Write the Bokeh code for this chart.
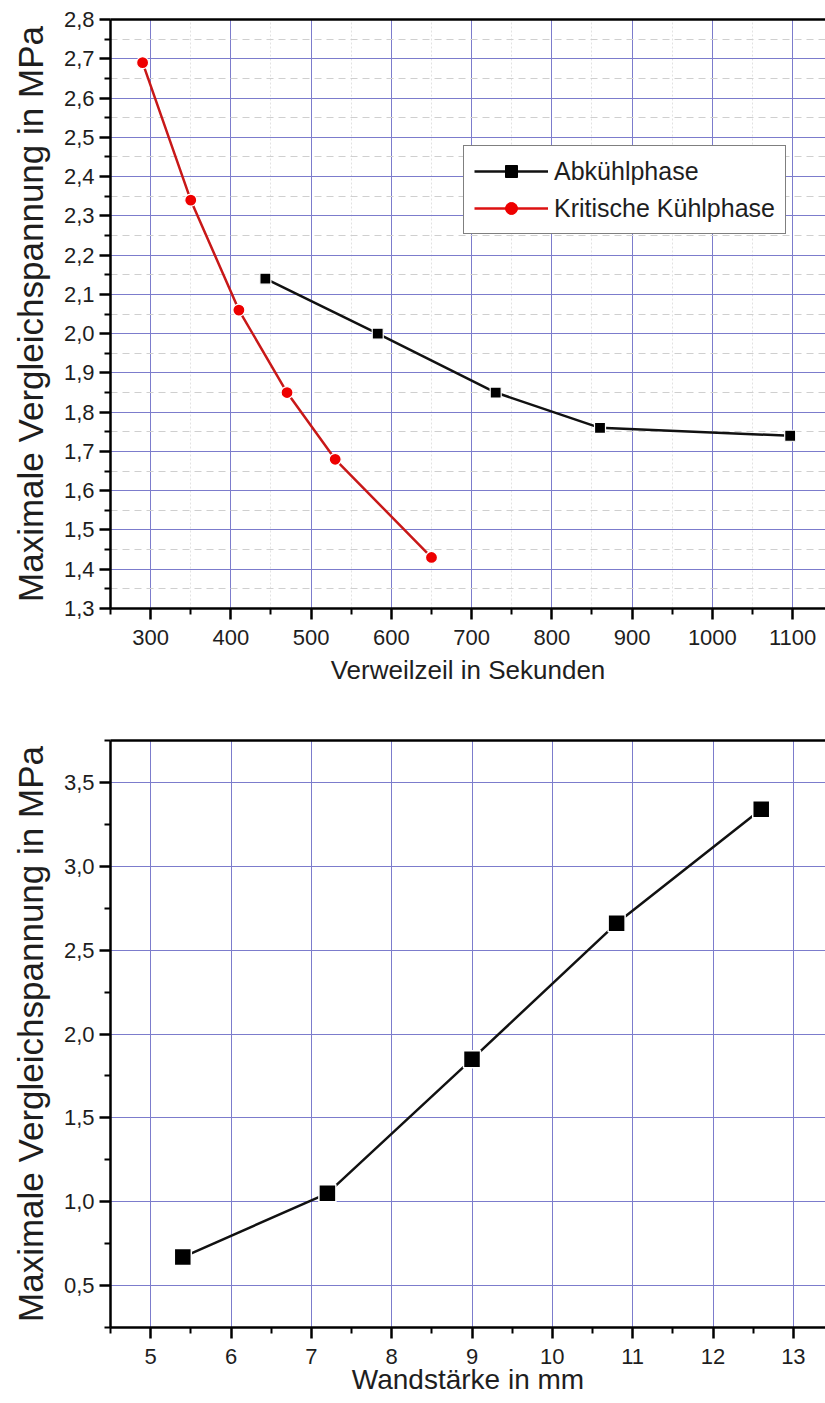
from bokeh.plotting import figure
from bokeh.models import (Range1d, FixedTicker, LinearAxis, CustomJSTickFormatter,
                          Legend, LegendItem, ColumnDataSource)
from bokeh.layouts import column
from bokeh.embed import file_html
from bokeh.resources import INLINE

# ---------------- data ----------------
abk_x = [443, 583, 730, 860, 1097]
abk_y = [2.14, 2.00, 1.85, 1.76, 1.74]
krit_x = [290, 350, 410, 470, 530, 650]
krit_y = [2.69, 2.34, 2.06, 1.85, 1.68, 1.43]
series_names = ["Abkühlphase", "Kritische Kühlphase"]

wand_x = [5.4, 7.2, 9.0, 10.8, 12.6]
wand_y = [0.67, 1.05, 1.85, 2.66, 3.34]

top_x_ticks = [300, 400, 500, 600, 700, 800, 900, 1000, 1100]
top_x_minor = [250, 350, 450, 550, 650, 750, 850, 950, 1050, 1150]
top_y_ticks = [1.3, 1.4, 1.5, 1.6, 1.7, 1.8, 1.9, 2.0, 2.1, 2.2, 2.3, 2.4, 2.5, 2.6, 2.7, 2.8]
top_y_minor = [1.35, 1.45, 1.55, 1.65, 1.75, 1.85, 1.95, 2.05, 2.15, 2.25, 2.35, 2.45, 2.55, 2.65, 2.75]

bot_x_ticks = [5, 6, 7, 8, 9, 10, 11, 12, 13]
bot_x_minor = [4.5, 5.5, 6.5, 7.5, 8.5, 9.5, 10.5, 11.5, 12.5, 13.5]
bot_y_ticks = [0.5, 1.0, 1.5, 2.0, 2.5, 3.0, 3.5]
bot_y_minor = [0.25, 0.75, 1.25, 1.75, 2.25, 2.75, 3.25, 3.75]

y_title = "Maximale Vergleichspannung in MPa"
x_title_top = "Verweilzeil in Sekunden"
x_title_bot = "Wandstärke in mm"

FONT = "Liberation Sans"
TXT = "#1e1e1e"
GRID = "#7c7ccc"

comma_fmt = CustomJSTickFormatter(code="return tick.toFixed(1).replace('.', ',');")


def style_axes(p, xt, xm, yt, ym, xlabel, xtitle_size, ylabel_fmt):
    p.xaxis.ticker = FixedTicker(ticks=xt, minor_ticks=xm)
    p.yaxis.ticker = FixedTicker(ticks=yt, minor_ticks=ym)
    p.yaxis.formatter = ylabel_fmt
    for ax in (p.xaxis[0], p.yaxis[0]):
        ax.axis_line_width = 2.5
        ax.axis_line_color = "black"
        ax.major_tick_line_width = 2.5
        ax.major_tick_line_color = "black"
        ax.minor_tick_line_width = 2
        ax.minor_tick_line_color = "black"
        ax.major_tick_out = 11
        ax.major_tick_in = 0
        ax.minor_tick_out = 6
        ax.minor_tick_in = 0
        ax.major_label_text_font = FONT
        ax.major_label_text_font_size = "22px"
        ax.major_label_text_color = TXT
        ax.axis_label_text_font = FONT
        ax.axis_label_text_font_style = "normal"
        ax.axis_label_text_color = TXT
    p.xaxis.major_label_standoff = 10
    p.yaxis.major_label_standoff = 5
    p.xaxis.axis_label = xlabel
    p.xaxis.axis_label_text_font_size = xtitle_size
    p.yaxis.axis_label = y_title
    p.yaxis.axis_label_text_font_size = "35px"
    p.yaxis.axis_label_standoff = 11
    p.xgrid.grid_line_color = GRID
    p.ygrid.grid_line_color = GRID
    p.xgrid.grid_line_width = 1
    p.ygrid.grid_line_width = 1
    top = LinearAxis(ticker=FixedTicker(ticks=[]), axis_line_width=2.5, axis_line_color="black",
                     major_tick_out=0, minor_tick_out=0, major_label_text_font_size="0px",
                     major_label_standoff=0)
    p.add_layout(top, "above")


# ---------------- top figure ----------------
p1 = figure(width=825, height=700, output_backend="svg", toolbar_location=None,
            x_range=Range1d(250, 1141), y_range=Range1d(1.3, 2.8),
            min_border_left=110, min_border_right=0, min_border_top=19, min_border_bottom=92)
p1.outline_line_color = None
style_axes(p1, top_x_ticks, top_x_minor, top_y_ticks, top_y_minor, x_title_top, "26px", comma_fmt)
p1.xaxis.axis_label_standoff = 7
p1.ygrid.minor_grid_line_color = "#cfcfcf"
p1.ygrid.minor_grid_line_dash = "7 5"
p1.xgrid.minor_grid_line_color = "#e2e2e2"
p1.xgrid.minor_grid_line_dash = "2 2"

src_a = ColumnDataSource(dict(x=abk_x, y=abk_y))
src_k = ColumnDataSource(dict(x=krit_x, y=krit_y))
p1.line("x", "y", source=src_a, line_color="#111111", line_width=2.5)
p1.scatter("x", "y", source=src_a, marker="square", size=11, fill_color="black",
           line_color="white", line_width=1.2)
p1.line("x", "y", source=src_k, line_color="#c81818", line_width=2.5)
p1.scatter("x", "y", source=src_k, marker="circle", size=12, fill_color="#ee0000",
           line_color="white", line_width=1.2)

# legend-only proxies (a single NaN point, so nothing is drawn in the plot area)
nan = float("nan")
proxy_a = ColumnDataSource(dict(x=[nan], y=[nan]))
proxy_k = ColumnDataSource(dict(x=[nan], y=[nan]))
la = p1.line("x", "y", source=proxy_a, line_color="#111111", line_width=2.5)
ma = p1.scatter("x", "y", source=proxy_a, marker="square", size=13, fill_color="black",
                line_color="black", line_width=1)
lk = p1.line("x", "y", source=proxy_k, line_color="#dd1111", line_width=2.5)
mk = p1.scatter("x", "y", source=proxy_k, marker="circle", size=14, fill_color="#ee0000",
                line_color="#ee0000", line_width=1)

legend = Legend(items=[LegendItem(label=series_names[0], renderers=[la, ma]),
                       LegendItem(label=series_names[1], renderers=[lk, mk])],
                location=(353, 374), margin=0, padding=10, spacing=7,
                glyph_width=74, glyph_height=30, label_height=30, label_standoff=6,
                label_text_font=FONT, label_text_font_size="25px", label_text_color=TXT,
                border_line_color="black", border_line_width=1.5,
                background_fill_color="white", background_fill_alpha=1)
p1.add_layout(legend)

# ---------------- bottom figure ----------------
p2 = figure(width=825, height=703, output_backend="svg", toolbar_location=None,
            x_range=Range1d(4.5, 13.4), y_range=Range1d(0.25, 3.75),
            min_border_left=110, min_border_right=0, min_border_top=40, min_border_bottom=76)
p2.outline_line_color = None
style_axes(p2, bot_x_ticks, bot_x_minor, bot_y_ticks, bot_y_minor, x_title_bot, "28px", comma_fmt)
p2.xaxis.axis_label_standoff = -3

src_w = ColumnDataSource(dict(x=wand_x, y=wand_y))
p2.line("x", "y", source=src_w, line_color="#111111", line_width=2.5)
p2.scatter("x", "y", source=src_w, marker="square", size=17, fill_color="black",
           line_color="white", line_width=1.5)

layout = column(p1, p2, spacing=0)
open("out.html", "w").write(file_html(layout, INLINE))
